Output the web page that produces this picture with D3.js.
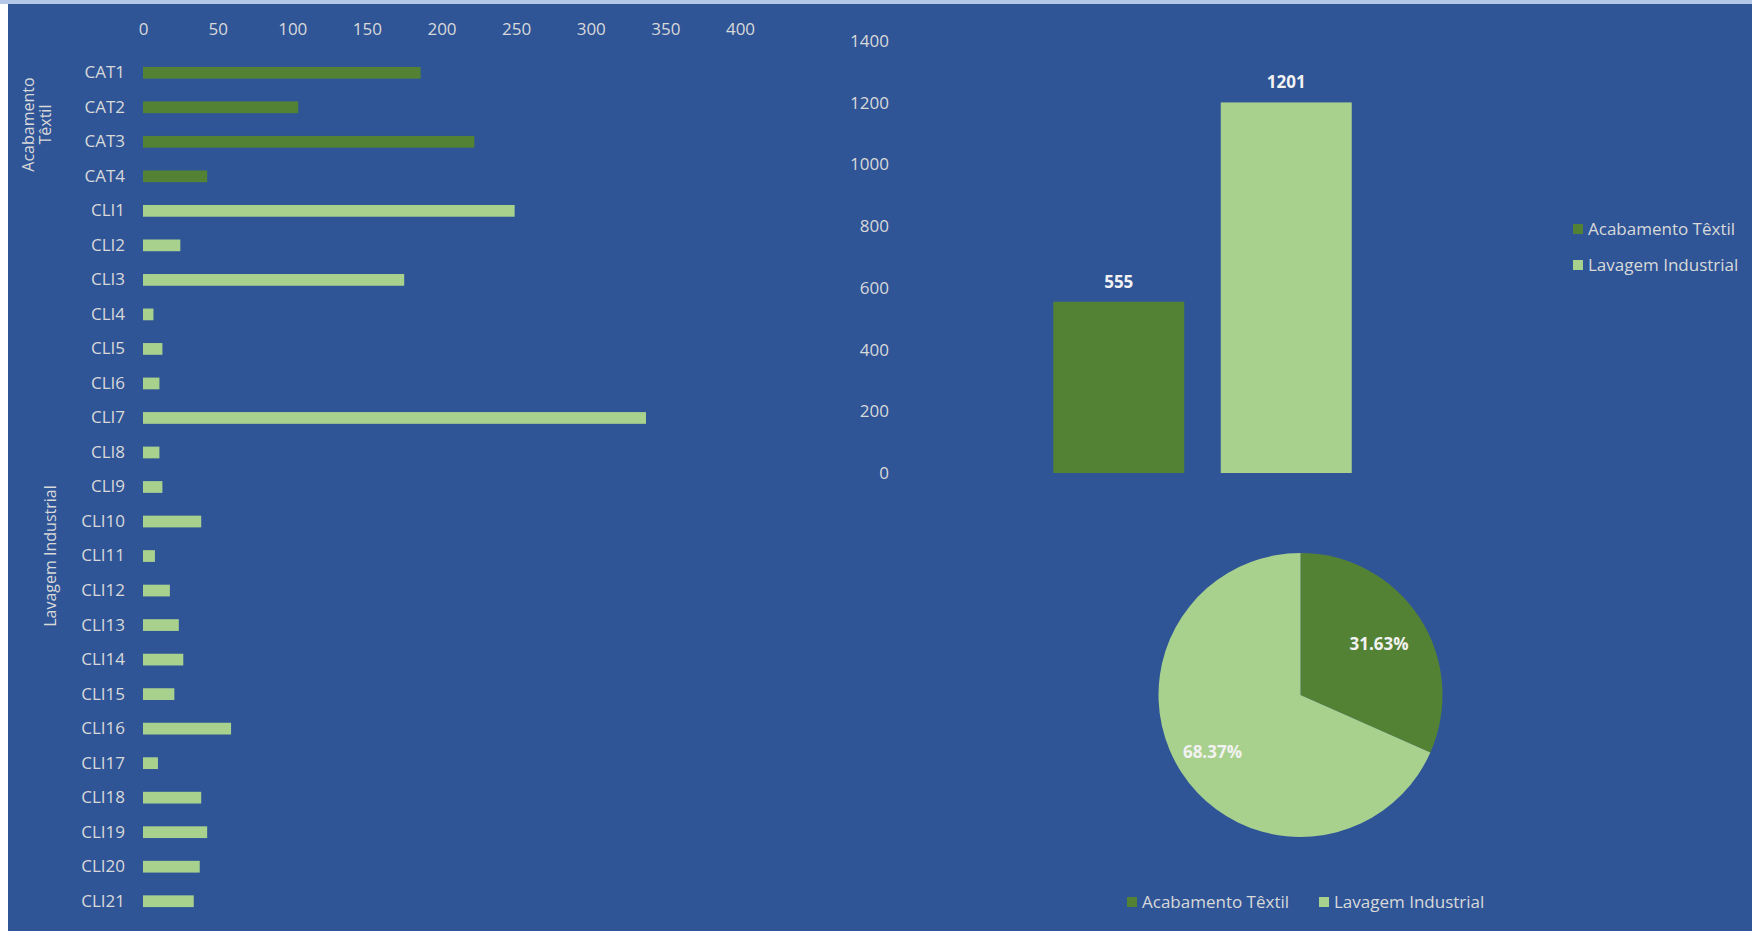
<!DOCTYPE html>
<html>
<head>
<meta charset="utf-8">
<script src="https://cdn.jsdelivr.net/npm/d3@7"></script>
<style>
  body { margin: 0; background: #2f5597; }
</style>
</head>
<body>
<script>
'use strict';

// chart data
const categories = ['CAT1', 'CAT2', 'CAT3', 'CAT4',
  'CLI1', 'CLI2', 'CLI3', 'CLI4', 'CLI5', 'CLI6', 'CLI7', 'CLI8', 'CLI9', 'CLI10',
  'CLI11', 'CLI12', 'CLI13', 'CLI14', 'CLI15', 'CLI16', 'CLI17', 'CLI18', 'CLI19', 'CLI20', 'CLI21'];
const values = [186, 104, 222, 43,
  249, 25, 175, 7, 13, 11, 337, 11, 13, 39,
  8, 18, 24, 27, 21, 59, 10, 39, 43, 38, 34];
const groups = ['Acabamento Têxtil', 'Lavagem Industrial'];
const groupTotals = [555, 1201];
const pieShares = [31.63, 68.37];
const xTicks = [0, 50, 100, 150, 200, 250, 300, 350, 400];
const yTicks = [0, 200, 400, 600, 800, 1000, 1200, 1400];

(function() {

  const colors = ['#548235', '#a9d18e'];
  const textColor = '#d9d9d9';
  const font = '"Open Sans", sans-serif';

  let svg = '';

  window.onload = function() {
    svg = d3.select('body')
      .append('svg')
      .attr('width', 1752)
      .attr('height', 931)
      .style('display', 'block')
      .style('font-family', font);

    drawFrame();
    drawCategoryBars();
    drawTotalBars();
    drawPie();
  }

  // background, white left margin and top strip
  function drawFrame() {
    svg.append('rect')
      .attr('width', 1752).attr('height', 931)
      .attr('fill', '#2f5597');
    svg.append('rect')
      .attr('width', 8).attr('height', 931)
      .attr('fill', '#ffffff');
    svg.append('rect')
      .attr('width', 1752).attr('height', 4)
      .attr('fill', '#b4c7e7');
  }

  // horizontal bars per client, grouped by sector
  function drawCategoryBars() {
    let xScale = d3.scaleLinear()
      .domain([0, 400])
      .range([143, 740]);

    let yScale = d3.scaleBand()
      .domain(categories)
      .range([55, 919])
      .paddingInner(0.66)
      .paddingOuter(0.345);

    let groupOf = (c) => c.startsWith('CAT') ? 0 : 1;

    // x axis on top, labels only
    let xAxis = svg.append('g')
      .attr('transform', 'translate(0, 35)')
      .call(d3.axisTop(xScale).tickValues(xTicks).tickSize(0).tickPadding(0));
    styleAxis(xAxis);

    let yAxis = svg.append('g')
      .attr('transform', 'translate(133, 0)')
      .call(d3.axisLeft(yScale).tickSize(0).tickPadding(8));
    styleAxis(yAxis);

    svg.selectAll('.hbar')
      .data(categories)
      .enter()
      .append('rect')
        .attr('class', 'hbar')
        .attr('x', xScale(0))
        .attr('y', (d) => yScale(d))
        .attr('width', (d, i) => xScale(values[i]) - xScale(0))
        .attr('height', yScale.bandwidth())
        .attr('fill', (d) => colors[groupOf(d)]);

    // sector labels, rotated
    let first = categories.filter((c) => groupOf(c) == 0);
    let second = categories.filter((c) => groupOf(c) == 1);
    let mid = (list) => (yScale(list[0]) + yScale(list[list.length - 1]) + yScale.bandwidth()) / 2;

    let words = groups[0].split(' ');
    let lab1 = svg.append('text')
      .attr('transform', 'translate(37, ' + mid(first) + ')rotate(-90)')
      .attr('text-anchor', 'middle')
      .attr('fill', textColor)
      .style('font-size', '16px');
    lab1.append('tspan').attr('x', 0).attr('dy', '-0.2em').text(words[0]);
    lab1.append('tspan').attr('x', 0).attr('dy', '1.1em').text(words[1]);

    svg.append('text')
      .attr('transform', 'translate(50, ' + mid(second) + ')rotate(-90)')
      .attr('text-anchor', 'middle')
      .attr('dy', '0.35em')
      .attr('fill', textColor)
      .style('font-size', '16px')
      .text(groups[1]);
  }

  // column chart of sector totals
  function drawTotalBars() {
    let xScale = d3.scaleBand()
      .domain(groups)
      .range([905, 1500])
      .paddingInner(0.218)
      .paddingOuter(0.885);

    let yScale = d3.scaleLinear()
      .domain([0, 1400])
      .range([473, 41]);

    let yAxis = svg.append('g')
      .attr('transform', 'translate(897, 0)')
      .call(d3.axisLeft(yScale).tickValues(yTicks).tickFormat(d3.format('d')).tickSize(0).tickPadding(8));
    styleAxis(yAxis);

    svg.selectAll('.vbar')
      .data(groups)
      .enter()
      .append('rect')
        .attr('class', 'vbar')
        .attr('x', (d) => xScale(d))
        .attr('y', (d, i) => yScale(groupTotals[i]))
        .attr('width', xScale.bandwidth())
        .attr('height', (d, i) => yScale(0) - yScale(groupTotals[i]))
        .attr('fill', (d, i) => colors[i]);

    // value labels above columns
    svg.selectAll('.vlabel')
      .data(groups)
      .enter()
      .append('text')
        .attr('class', 'vlabel')
        .attr('x', (d) => xScale(d) + xScale.bandwidth() / 2)
        .attr('y', (d, i) => yScale(groupTotals[i]) - 14)
        .attr('text-anchor', 'middle')
        .attr('fill', '#f2f2f2')
        .style('font-size', '17px')
        .style('font-weight', 'bold')
        .text((d, i) => groupTotals[i]);

    // legend on the right
    let legend = svg.selectAll('.rlegend')
      .data(groups)
      .enter()
      .append('g')
        .attr('class', 'rlegend')
        .attr('transform', (d, i) => 'translate(1573, ' + (229 + i * 36) + ')');
    legend.append('rect')
      .attr('x', 0).attr('y', -5)
      .attr('width', 10).attr('height', 10)
      .attr('fill', (d, i) => colors[i]);
    legend.append('text')
      .attr('x', 15)
      .attr('dy', '0.35em')
      .attr('fill', textColor)
      .style('font-size', '17px')
      .text((d) => d);
  }

  // pie of sector shares
  function drawPie() {
    let radius = 142;
    let g = svg.append('g')
      .attr('transform', 'translate(1300.5, 695)');

    let pie = d3.pie().sort(null).value((d) => d);
    let arc = d3.arc().innerRadius(0).outerRadius(radius);
    // excel best fit puts the labels at slightly different depths
    let labelDepth = [0.66, 0.74];

    let slices = pie(pieShares);

    g.selectAll('path')
      .data(slices)
      .enter()
      .append('path')
        .attr('d', arc)
        .attr('fill', (d, i) => colors[i]);

    g.selectAll('.plabel')
      .data(slices)
      .enter()
      .append('text')
        .attr('class', 'plabel')
        .attr('transform', (d, i) => {
          let r = radius * labelDepth[i];
          return 'translate(' + d3.arc().innerRadius(r).outerRadius(r).centroid(d) + ')';
        })
        .attr('text-anchor', 'middle')
        .attr('dy', '0.35em')
        .attr('fill', '#f2f2f2')
        .style('font-size', '17px')
        .style('font-weight', 'bold')
        .text((d) => d.data.toFixed(2) + '%');

    // legend below the pie
    let offsets = [1127, 1319];
    let legend = svg.selectAll('.plegend')
      .data(groups)
      .enter()
      .append('g')
        .attr('class', 'plegend')
        .attr('transform', (d, i) => 'translate(' + offsets[i] + ', 902)');
    legend.append('rect')
      .attr('x', 0).attr('y', -5)
      .attr('width', 10).attr('height', 10)
      .attr('fill', (d, i) => colors[i]);
    legend.append('text')
      .attr('x', 15)
      .attr('dy', '0.35em')
      .attr('fill', textColor)
      .style('font-size', '17px')
      .text((d) => d);
  }

  // strip axis lines and set the text style
  function styleAxis(axis) {
    axis.select('.domain').remove();
    axis.selectAll('text')
      .attr('fill', textColor)
      .style('font-family', font)
      .style('font-size', '17px');
  }

})();
</script>
</body>
</html>
